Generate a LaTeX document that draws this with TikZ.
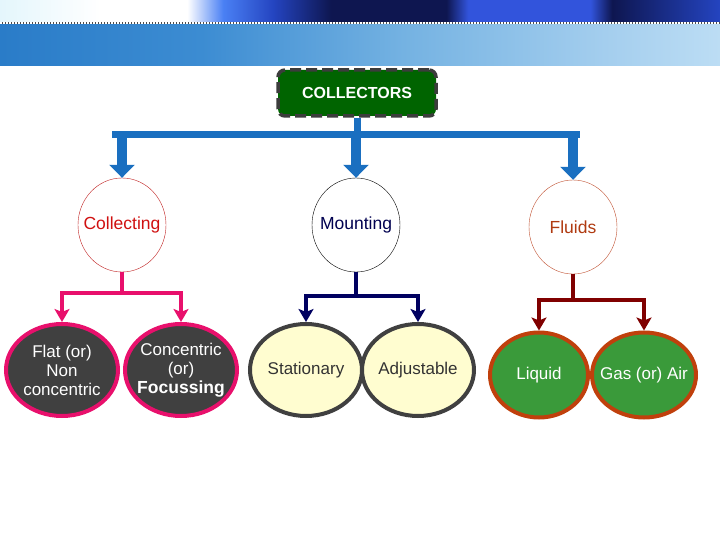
\documentclass[tikz,border=0pt]{standalone}
\usepackage{fontspec}
\setmainfont{Liberation Sans}
\usetikzlibrary{arrows.meta,shapes.geometric}
\definecolor{busblue}{HTML}{1A6FC0}
\definecolor{boxgreen}{HTML}{006400}
\definecolor{boxrim}{HTML}{3C3C3C}
\definecolor{collectrim}{HTML}{C02020}
\definecolor{collectink}{HTML}{D01010}
\definecolor{mountink}{HTML}{000050}
\definecolor{fluidrim}{HTML}{C05030}
\definecolor{fluidink}{HTML}{B03A10}
\definecolor{pinkline}{HTML}{E8106C}
\definecolor{navyline}{HTML}{000060}
\definecolor{maroonline}{HTML}{800000}
\definecolor{leafdark}{HTML}{404040}
\definecolor{leafcream}{HTML}{FFFDD0}
\definecolor{leafgreen}{HTML}{3A9A3A}
\definecolor{leafrim}{HTML}{C0400C}
%% banner colours
\definecolor{bannerpale}{HTML}{E4F6FC}
\definecolor{bannerbright}{HTML}{4A80F4}
\definecolor{bannermid}{HTML}{2444C0}
\definecolor{bannernavy}{HTML}{0E1650}
\definecolor{bannerblue}{HTML}{3254DC}
\definecolor{bandleft}{HTML}{2A7CC8}
\definecolor{bandmid}{HTML}{3C8CD2}
\definecolor{bandlight}{HTML}{74B2E2}
\definecolor{bandpale}{HTML}{A4CEEE}
\definecolor{bandright}{HTML}{BCDDF4}
\pgfdeclarehorizontalshading{bannertop}{100bp}{color(0bp)=(bannerpale); color(25bp)=(bannerpale);
  color(32bp)=(white); color(38bp)=(white); color(40.5bp)=(bannerbright);
  color(44bp)=(bannermid); color(48bp)=(bannernavy); color(56bp)=(bannernavy);
  color(57.5bp)=(bannerblue); color(66bp)=(bannerblue);
  color(67.5bp)=(bannernavy); color(75bp)=(bannermid); color(100bp)=(bannermid)}
\pgfdeclarehorizontalshading{bannerlow}{100bp}{color(0bp)=(bandleft);
  color(25bp)=(bandleft); color(39bp)=(bandmid); color(53bp)=(bandlight);
  color(67bp)=(bandpale); color(75bp)=(bandright); color(100bp)=(bandright)}
\begin{document}
\begin{tikzpicture}
[x=1pt,y=-1pt,
  rootdecorate/.style={shape=rectangle,rounded corners=7pt,draw=boxrim,line width=3.5pt,
    dash pattern=on 11pt off 5pt,fill=boxgreen,text=white,
    font=\bfseries\fontsize{16}{18}\selectfont,minimum width=158pt,minimum height=46pt},
  groupdecorate/.style={shape=ellipse,thin,fill=white,minimum width=88pt,
    minimum height=94pt,inner xsep=-9pt,inner ysep=0pt,font=\fontsize{17.5}{19}\selectfont},
  leafdecorate/.style={shape=ellipse,line width=4pt,minimum width=112pt,minimum height=92pt,
    inner xsep=-9pt,inner ysep=0pt,align=center,font=\fontsize{17}{19}\selectfont},
  busdecorate/.style={draw=busblue,line width=7pt},
  blockdecorate/.style={draw=busblue,line width=10pt,-{Triangle[width=25pt,length=13pt]}},
  branchdecorate/.style={line width=4.5pt,-{Stealth[width=15pt,length=13pt,inset=3pt]}}]
\useasboundingbox (0,0) rectangle (720,540);
%% banner
\shade[shading=bannertop] (0,0) rectangle (720,23);
\shade[shading=bannerlow] (0,24) rectangle (720,66);
\draw[line width=2pt,black!70] (0,23) -- (720,23);
\draw[line width=2pt,white,dash pattern=on 1.5pt off 1.5pt] (0,23) -- (720,23);
%% nodes or vertices
\node (collectors) at (357,93) [rootdecorate] {COLLECTORS};
\foreach \nodename/\x/\y/\rim/\ink/\label in {
  collecting/122/225/collectrim/collectink/Collecting,
  mounting/356/225/black/mountink/Mounting,
  fluids/573/227/fluidrim/fluidink/Fluids}
{
  \node (\nodename) at (\x,\y) [groupdecorate,draw=\rim,text=\ink] {\label};
}
\node (flat) at (62,370) [leafdecorate,draw=pinkline,fill=leafdark,text=white]
  {Flat (or)\\Non\\concentric};
\node (concentric) at (181,370) [leafdecorate,draw=pinkline,fill=leafdark,text=white]
  {Concentric\\(or)\\{\bfseries\fontsize{17.5}{20}\selectfont Focussing}};
\node (stationary) at (306,370) [leafdecorate,draw=leafdark,fill=leafcream,text=black!80]
  {Stationary};
\node (adjustable) at (418,370) [leafdecorate,draw=leafdark,fill=leafcream,text=black!80]
  {Adjustable};
\node (liquid) at (539,375) [leafdecorate,minimum width=98pt,minimum height=85pt,
  draw=leafrim,fill=leafgreen,text=white] {Liquid};
\node (gas) at (644,375) [leafdecorate,minimum width=104pt,minimum height=85pt,
  draw=leafrim,fill=leafgreen,text=white] {Gas (or) Air};
%% edges or lines
\coordinate (busleft) at (112,135);
\coordinate (busright) at (580,135);
\draw[busdecorate] (collectors.south) -- (collectors.south |- busleft);
\draw[busdecorate] (busleft) -- (busright);
\foreach \groupname in {collecting, mounting, fluids}
{
  \draw[blockdecorate] (\groupname |- busleft) -- (\groupname.north);
}
\coordinate (collecting-join) at (122,293);
\coordinate (mounting-join) at (356,296);
\coordinate (fluids-join) at (573,300);
\foreach \groupname/\linecolour/\leftleaf/\rightleaf in {
  collecting/pinkline/flat/concentric, mounting/navyline/stationary/adjustable,
  fluids/maroonline/liquid/gas}
{
  \draw[line width=4.5pt,draw=\linecolour] (\groupname.south) -- (\groupname-join);
  \draw[branchdecorate,draw=\linecolour] (\groupname-join) -| (\leftleaf.north);
  \draw[branchdecorate,draw=\linecolour] (\groupname-join) -| (\rightleaf.north);
}
\end{tikzpicture}
\end{document}
